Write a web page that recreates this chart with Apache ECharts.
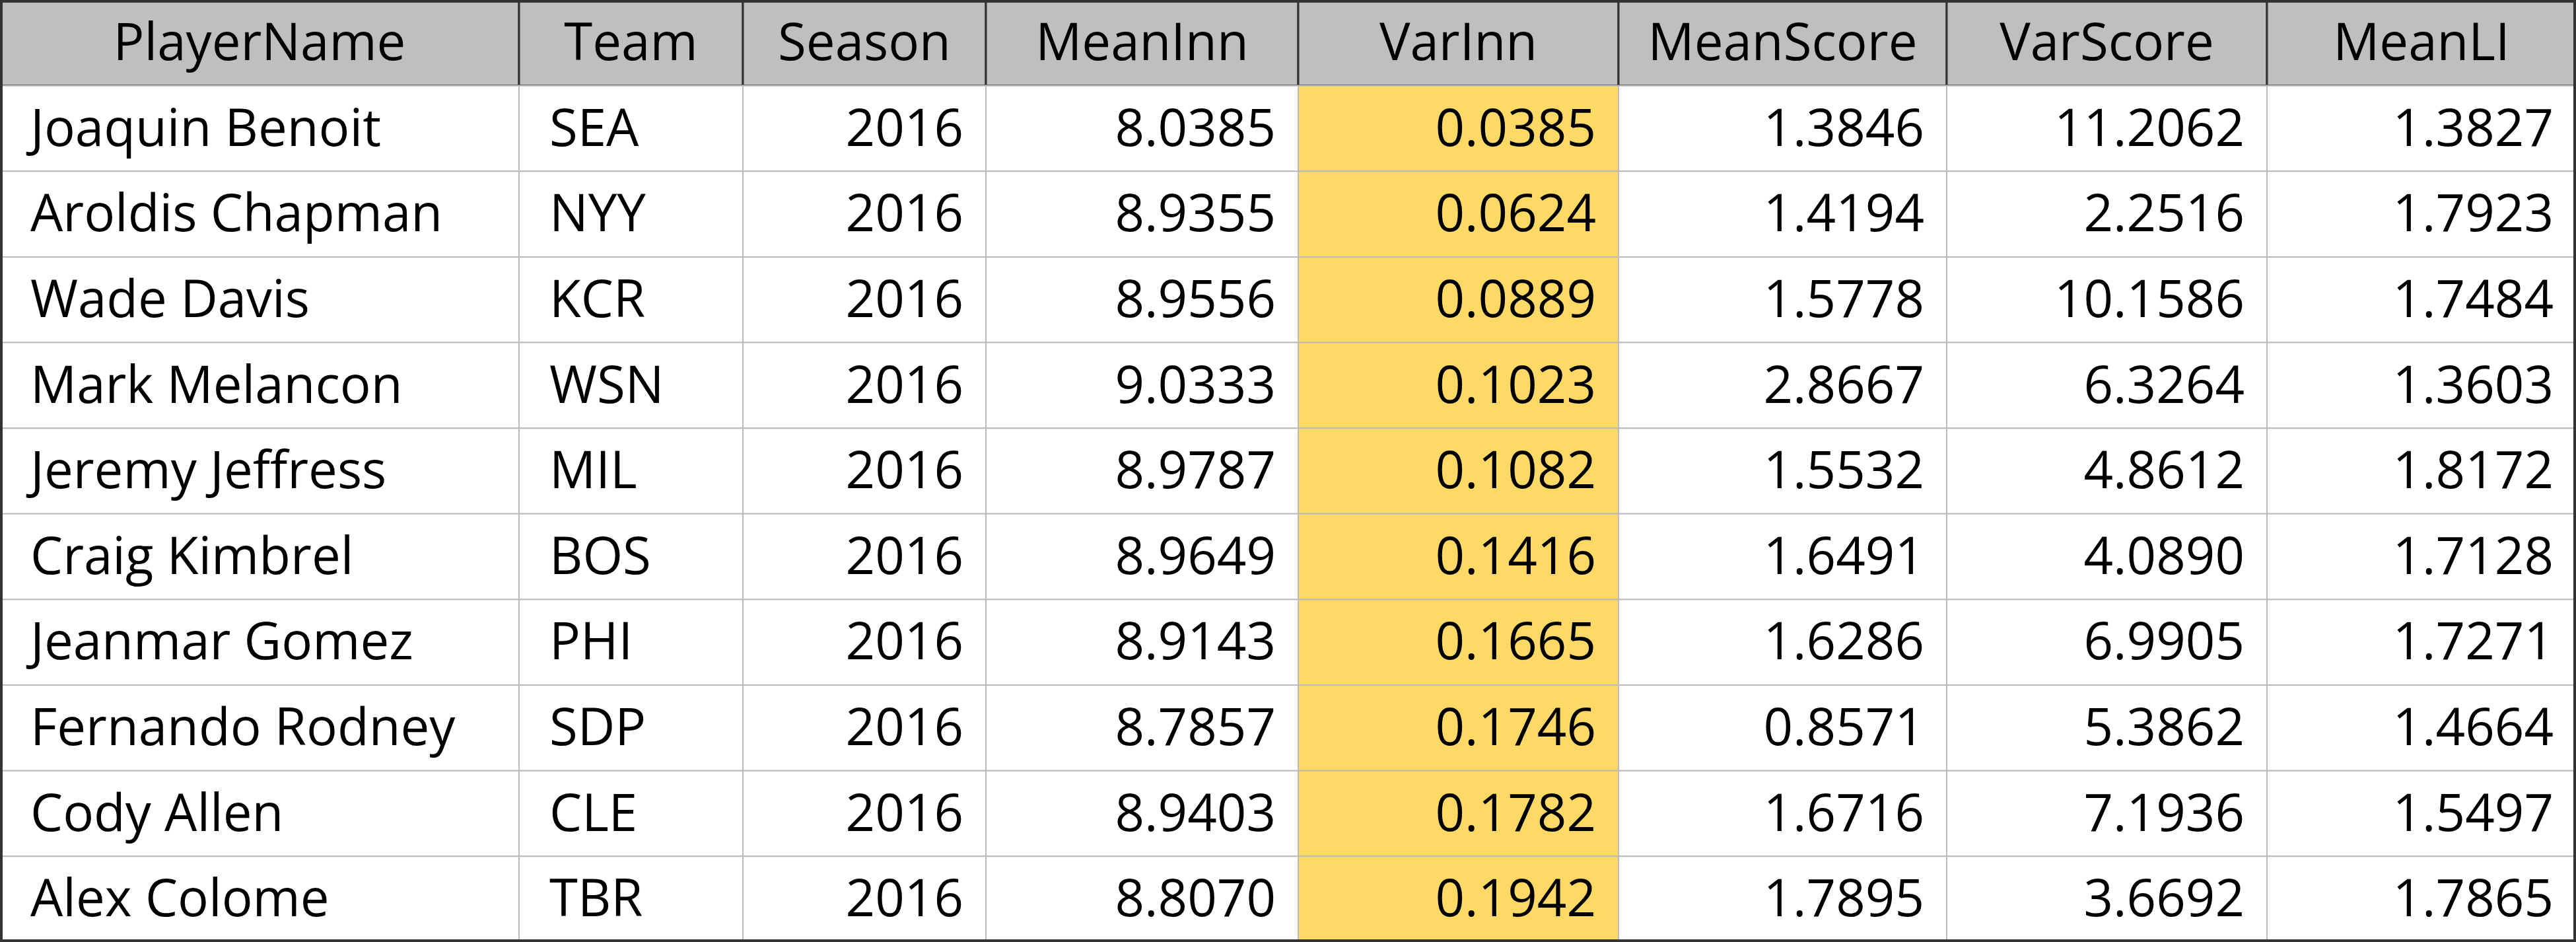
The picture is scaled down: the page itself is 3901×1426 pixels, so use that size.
<!DOCTYPE html>
<html><head><meta charset="utf-8">
<script src="https://cdn.jsdelivr.net/npm/echarts@6/dist/echarts.min.js"></script>
<style>html,body{margin:0;padding:0;background:#fff}#main{width:3901px;height:1426px}</style>
</head><body><div id="main"></div>
<script>
var headers = ['PlayerName','Team','Season','MeanInn','VarInn','MeanScore','VarScore','MeanLI'];
var players = ['Joaquin Benoit','Aroldis Chapman','Wade Davis','Mark Melancon','Jeremy Jeffress','Craig Kimbrel','Jeanmar Gomez','Fernando Rodney','Cody Allen','Alex Colome'];
var teams = ['SEA','NYY','KCR','WSN','MIL','BOS','PHI','SDP','CLE','TBR'];
var seasons = [2016,2016,2016,2016,2016,2016,2016,2016,2016,2016];
var meanInn = ['8.0385','8.9355','8.9556','9.0333','8.9787','8.9649','8.9143','8.7857','8.9403','8.8070'];
var varInn = ['0.0385','0.0624','0.0889','0.1023','0.1082','0.1416','0.1665','0.1746','0.1782','0.1942'];
var meanScore = ['1.3846','1.4194','1.5778','2.8667','1.5532','1.6491','1.6286','0.8571','1.6716','1.7895'];
var varScore = ['11.2062','2.2516','10.1586','6.3264','4.8612','4.0890','6.9905','5.3862','7.1936','3.6692'];
var meanLI = ['1.3827','1.7923','1.7484','1.3603','1.8172','1.7128','1.7271','1.4664','1.5497','1.7865'];

// column edges in axis units (layout)
var colEdges = [0, 786, 1125, 1493, 1966, 2451, 2948, 3433, 3901];
var columns = [players, teams, seasons, meanInn, varInn, meanScore, varScore, meanLI];

var data = [];
headers.forEach(function (h, c) { data.push([c, 0, h]); });
for (var r = 0; r < players.length; r++) {
  for (var c = 0; c < columns.length; c++) data.push([c, r + 1, String(columns[c][r])]);
}

var chart = echarts.init(document.getElementById('main'));
chart.setOption({
  animation: false,
  grid: {left: 0, right: 0, top: 0, bottom: 0},
  xAxis: {type: 'value', min: 0, max: 3901, show: false},
  yAxis: {type: 'value', min: 0, max: 11, inverse: true, show: false},
  series: [{
    type: 'custom',
    data: data,
    renderItem: function (params, api) {
      var c = api.value(0), r = api.value(1);
      var text = data[params.dataIndex][2];
      var p0 = api.coord([colEdges[c], r]);
      var p1 = api.coord([colEdges[c + 1], r + 1]);
      var w = p1[0] - p0[0], h = p1[1] - p0[1];
      var fill = '#fff';
      if (r === 0) fill = '#bfbfbf';
      else if (c === 4) fill = '#ffd966';
      var align = r === 0 ? 'center' : (c < 2 ? 'left' : 'right');
      var tx = align === 'center' ? p0[0] + w / 2 : (align === 'left' ? p0[0] + 46 : p1[0] - 34);
      return {
        type: 'group',
        children: [
          {type: 'rect', shape: {x: p0[0], y: p0[1], width: w, height: h},
           style: {fill: fill, stroke: r === 0 ? '#333' : '#bbb', lineWidth: r === 0 ? 3 : 2}},
          {type: 'text', style: {text: text, x: tx, y: p0[1] + h / 2 + 4, align: align, verticalAlign: 'middle',
            fill: '#000', font: '78px "Open Sans", "Liberation Sans", sans-serif'}}
        ]
      };
    }
  }, {
    type: 'custom',
    data: [[0]],
    renderItem: function (params, api) {
      var p0 = api.coord([0, 0]), p1 = api.coord([3901, 11]);
      return {type: 'rect', shape: {x: p0[0] + 2, y: p0[1] + 2, width: p1[0] - p0[0] - 4, height: p1[1] - p0[1] - 4},
        style: {fill: 'none', stroke: '#333', lineWidth: 4}};
    }
  }]
});
</script></body></html>
